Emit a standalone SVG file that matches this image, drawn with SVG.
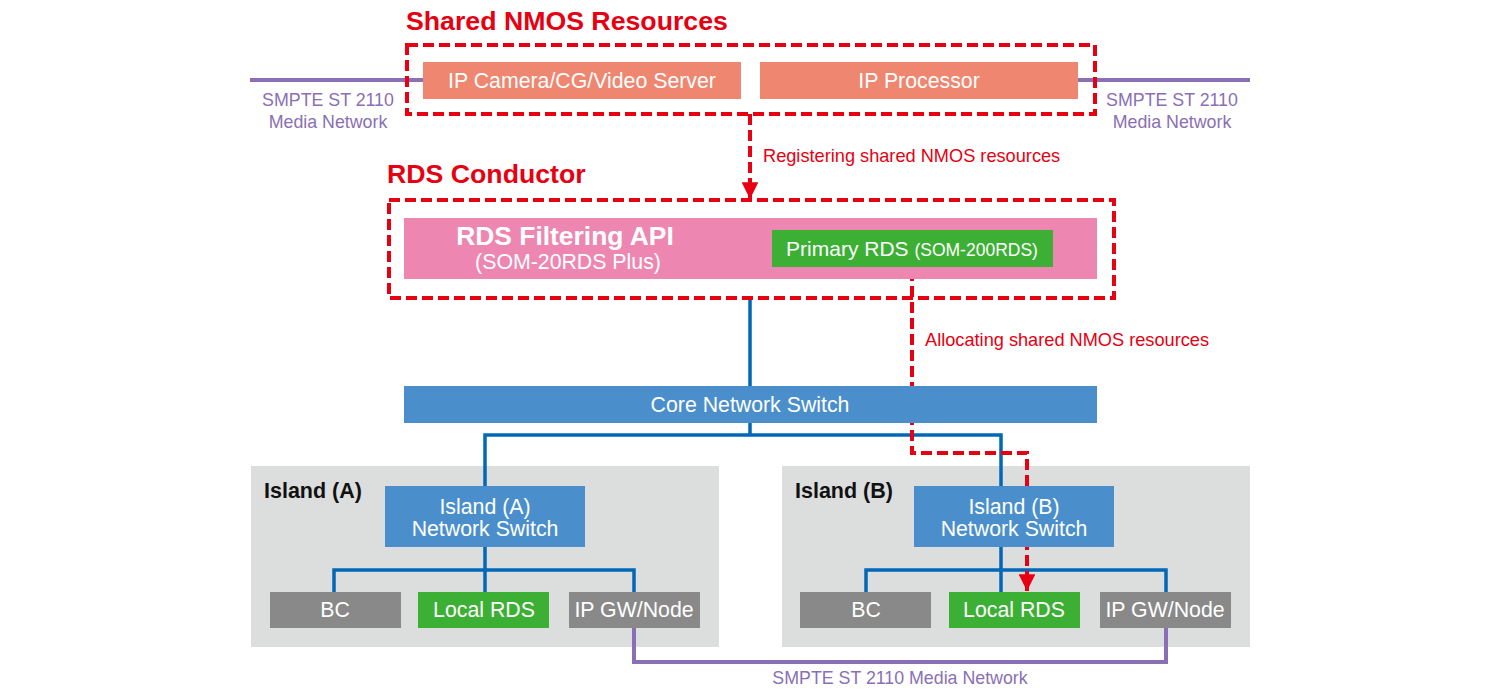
<svg xmlns="http://www.w3.org/2000/svg" width="1500" height="694" viewBox="0 0 1500 694">
<defs>
<style>
text{font-family:"Liberation Sans",Arial,sans-serif}
.ttl{fill:#e60012;font-weight:bold;font-size:26.7px}
.wt{fill:#fff;font-size:21.3px;text-anchor:middle}
.pl{fill:#8a6fb5;font-size:17.8px;text-anchor:middle}
.rl{fill:#e60012;font-size:18.2px}
.dash{fill:none;stroke:#e60012;stroke-width:4;stroke-dasharray:11 5}
.blue{fill:none;stroke:#0068b7;stroke-width:3.5}
.purp{fill:none;stroke:#8a6fb5;stroke-width:4}
.orange{fill:#ef866f}
.gray{fill:#898989}
.green{fill:#3cb034}
.sw{fill:#4a8fcb}
.island{fill:#dcdddd}
</style>
<marker id="ah" viewBox="0 0 10 10" refX="10" refY="5" markerWidth="4.2" markerHeight="4.2" markerUnits="strokeWidth" orient="auto">
<path d="M0,0 L10,5 L0,10 Z" fill="#e60012"/>
</marker>
</defs>
<rect width="1500" height="694" fill="#fff"/>

<g id="islandA-bg"><rect class="island" x="251" y="466" width="468" height="181"/><text x="264" y="498" font-size="21.5" font-weight="bold" fill="#111">Island (A)</text></g>
<g id="islandB-bg"><rect class="island" x="782" y="466" width="468" height="181"/><text x="795" y="498" font-size="21.5" font-weight="bold" fill="#111">Island (B)</text></g>

<g id="connectors">
<path class="purp" d="M250,80 H423 M1078,80 H1250"/>
<path class="purp" d="M634,628 V662 H1166 V628"/>
<path class="blue" d="M750,298 V386 M750,423 V435 M485,486 V435 H1001 V486"/>
<path class="blue" d="M485,547 V592 M334,592 V570 H634 V592"/>
<path class="blue" d="M1001,547 V592 M866,592 V570 H1166 V592"/>
<path class="dash" d="M750,114 V199" marker-end="url(#ah)"/>
<path class="dash" d="M912,270 V453 H1027 V591" marker-end="url(#ah)"/>
<text class="rl" x="763" y="162">Registering shared NMOS resources</text>
<text class="rl" x="925" y="346">Allocating shared NMOS resources</text>
<text class="pl" x="900" y="684">SMPTE ST 2110 Media Network</text>
<text class="pl" x="328" y="106">SMPTE ST 2110</text>
<text class="pl" x="328" y="128">Media Network</text>
<text class="pl" x="1172" y="106">SMPTE ST 2110</text>
<text class="pl" x="1172" y="128">Media Network</text>
</g>

<g id="shared-nmos">
<text class="ttl" x="406" y="30">Shared NMOS Resources</text>
<rect class="dash" x="407" y="45" width="688" height="69"/>
</g>
<g id="ip-camera"><rect class="orange" x="423" y="62" width="318" height="37"/><text class="wt" x="582" y="88">IP Camera/CG/Video Server</text></g>
<g id="ip-processor"><rect class="orange" x="760" y="62" width="318" height="37"/><text class="wt" x="919" y="88">IP Processor</text></g>

<g id="rds-conductor">
<text class="ttl" x="387" y="183">RDS Conductor</text>
<rect class="dash" x="389" y="200" width="725" height="98"/>
</g>
<g id="rds-filtering"><rect fill="#ed87b2" x="404" y="218" width="693" height="61"/>
<text x="565" y="245" fill="#fff" font-size="26.4" font-weight="bold" text-anchor="middle">RDS Filtering API</text>
<text x="568" y="269" fill="#fff" font-size="21.3" text-anchor="middle">(SOM-20RDS Plus)</text></g>
<g id="primary-rds"><rect class="green" x="772" y="230" width="281" height="37"/>
<text x="912" y="256" fill="#fff" font-size="21" text-anchor="middle">Primary RDS <tspan font-size="17.5">(SOM-200RDS)</tspan></text></g>

<g id="core-switch"><rect class="sw" x="404" y="386" width="693" height="37"/><text class="wt" x="750" y="412">Core Network Switch</text></g>

<g id="islandA-switch"><rect class="sw" x="385" y="486" width="200" height="61"/><text class="wt" x="485" y="514">Island (A)</text><text class="wt" x="485" y="536">Network Switch</text></g>
<g id="islandA-bc"><rect class="gray" x="270" y="592" width="131" height="36"/><text class="wt" x="335" y="617">BC</text></g>
<g id="islandA-local"><rect class="green" x="418" y="592" width="131" height="36"/><text class="wt" x="484" y="617">Local RDS</text></g>
<g id="islandA-gw"><rect class="gray" x="569" y="592" width="131" height="36"/><text class="wt" x="634" y="617" font-size="20.6">IP GW/Node</text></g>

<g id="islandB-switch"><rect class="sw" x="914" y="486" width="200" height="61"/><text class="wt" x="1014" y="514">Island (B)</text><text class="wt" x="1014" y="536">Network Switch</text></g>
<g id="islandB-bc"><rect class="gray" x="800" y="592" width="131" height="36"/><text class="wt" x="866" y="617">BC</text></g>
<g id="islandB-local"><rect class="green" x="949" y="592" width="131" height="36"/><text class="wt" x="1014" y="617">Local RDS</text></g>
<g id="islandB-gw"><rect class="gray" x="1100" y="592" width="131" height="36"/><text class="wt" x="1165" y="617" font-size="20.6">IP GW/Node</text></g>
</svg>
